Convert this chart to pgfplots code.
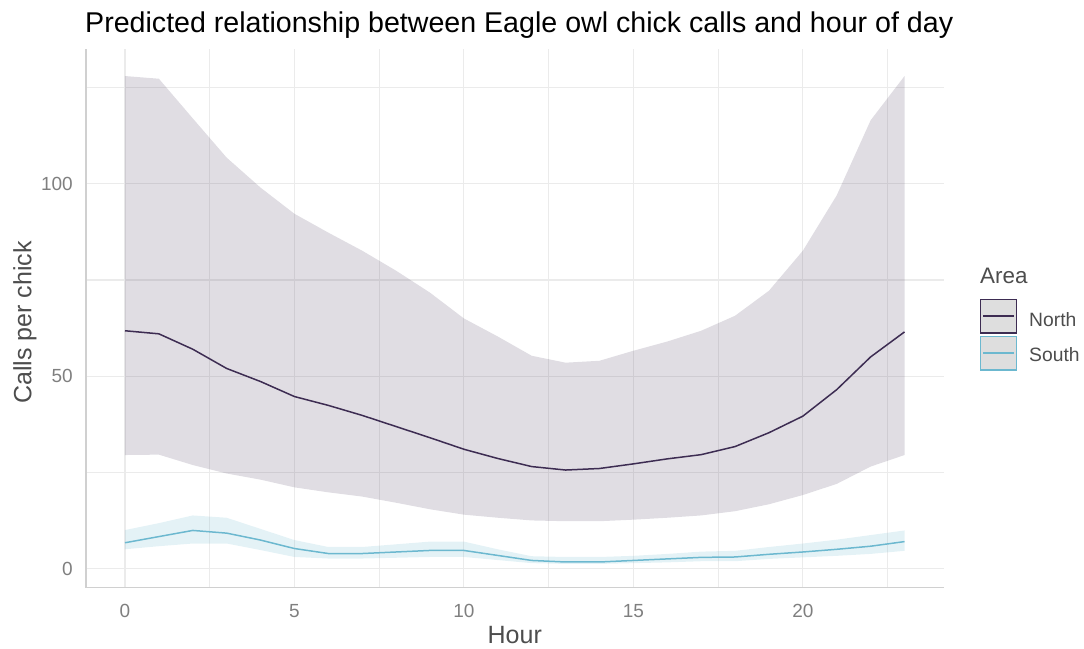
\documentclass[border=0pt]{standalone}
\usepackage{fontspec}
\setmainfont{Liberation Sans}
\usepackage{pgfplots}
\pgfplotsset{compat=1.18}
\usepgfplotslibrary{fillbetween}
\usepackage{pgfplotstable}
\definecolor{northline}{HTML}{3D2C52}
\definecolor{southline}{HTML}{6CB8CF}
\definecolor{gridc}{HTML}{EBEBEB}
\definecolor{axisc}{HTML}{D0D0D0}
\definecolor{tickc}{HTML}{7F7F7F}
\definecolor{labc}{HTML}{4D4D4D}
\definecolor{keyfill}{HTML}{DEDEDE}

\pgfplotstableread{
h mid lo hi
0 61.8 29.5 128.0
1 61.0 29.6 127.3
2 57.0 26.9 117.0
3 52.0 24.7 106.8
4 48.6 23.1 99.0
5 44.7 21.1 92.2
6 42.4 19.8 87.3
7 39.8 18.7 82.6
8 36.9 17.1 77.4
9 34.0 15.4 71.7
10 31.0 14.0 65.0
11 28.6 13.2 60.3
12 26.5 12.5 55.3
13 25.6 12.3 53.5
14 26.0 12.3 54.0
15 27.2 12.7 56.6
16 28.5 13.2 59.0
17 29.6 13.8 61.8
18 31.7 14.9 65.7
19 35.3 16.7 72.2
20 39.6 19.1 82.6
21 46.5 22.0 97.0
22 55.0 26.5 116.5
23 61.5 29.5 128.0
}\north

\pgfplotstableread{
h mid lo hi
0 6.7 5.0 10.0
1 8.3 5.8 11.8
2 9.9 6.5 13.8
3 9.2 6.5 13.2
4 7.4 4.8 10.3
5 5.2 3.0 7.4
6 3.9 2.6 5.6
7 3.9 2.6 5.6
8 4.3 2.8 6.3
9 4.7 3.0 7.0
10 4.7 3.0 7.0
11 3.4 2.2 5.0
12 2.1 1.4 3.2
13 1.7 1.2 3.0
14 1.7 1.2 3.0
15 2.1 1.4 3.3
16 2.5 1.6 3.8
17 2.9 1.9 4.4
18 3.0 1.9 4.6
19 3.7 2.5 5.6
20 4.3 2.9 6.5
21 5.0 3.3 7.5
22 5.8 3.8 8.7
23 7.0 4.6 9.9
}\south

\begin{document}
\begin{tikzpicture}[x=1pt,y=1pt]
\path (-86,-60.5) rectangle (998,587.5);
\begin{axis}[
  scale only axis, width=857.5pt, height=538pt,
  xmin=-1.15, xmax=24.15, ymin=-4.93, ymax=134.9,
  axis x line*=bottom, axis y line*=left,
  axis line style={-, draw=axisc, line width=1.3pt},
  xtick={0,5,10,15,20}, ytick={0,50,100},
  minor xtick={2.5,7.5,12.5,17.5,22.5}, minor ytick={25,75,125},
  grid=both,
  major grid style={draw=gridc, line width=1.1pt},
  minor grid style={draw=gridc, line width=1.1pt},
  major tick length=0pt, minor tick length=0pt,
  /pgf/number format/assume math mode=true,
  tick label style={font=\fontsize{19}{19}\selectfont, text=tickc, inner sep=0pt},
  xticklabel style={anchor=north, yshift=-16.5pt},
  yticklabel style={anchor=east, xshift=-13pt},
  clip=false,
]
\addplot[draw=none, name path=nhi] table[x=h, y=hi] {\north};
\addplot[draw=none, name path=nlo] table[x=h, y=lo] {\north};
\addplot[fill=northline, fill opacity=0.16, draw=none] fill between[of=nhi and nlo];
\addplot[draw=none, name path=shi] table[x=h, y=hi] {\south};
\addplot[draw=none, name path=slo] table[x=h, y=lo] {\south};
\addplot[fill=southline, fill opacity=0.18, draw=none] fill between[of=shi and slo];
\addplot[northline, line width=1.5pt] table[x=h, y=mid] {\north};
\addplot[southline, line width=1.5pt] table[x=h, y=mid] {\south};
\end{axis}
% title and labels
\node[anchor=base west, inner sep=0pt] at (-1,555.2) {\fontsize{28.6}{28.6}\selectfont Predicted relationship between Eagle owl chick calls and hour of day};
\node[anchor=base, inner sep=0pt, text=labc] at (428.75,-56) {\fontsize{25}{25}\selectfont Hour};
\node[anchor=base, inner sep=0pt, text=labc, rotate=90] at (-54.5,265) {\fontsize{25}{25}\selectfont Calls per chick};
% legend
\node[anchor=base west, inner sep=0pt, text=labc] at (894,303.5) {\fontsize{22.4}{22.4}\selectfont Area};
\filldraw[fill=keyfill, draw=northline, line width=1.3pt] (894.5,254.5) rectangle (930.5,288);
\draw[northline, line width=1.5pt] (897,271.25) -- (928,271.25);
\filldraw[fill=keyfill, draw=southline, line width=1.3pt] (894.5,217.5) rectangle (930.5,251);
\draw[southline, line width=1.5pt] (897,234.25) -- (928,234.25);
\node[anchor=base west, inner sep=0pt, text=labc] at (943,260.5) {\fontsize{19.3}{19.3}\selectfont North};
\node[anchor=base west, inner sep=0pt, text=labc] at (943,226) {\fontsize{19.3}{19.3}\selectfont South};
\end{tikzpicture}
\end{document}
